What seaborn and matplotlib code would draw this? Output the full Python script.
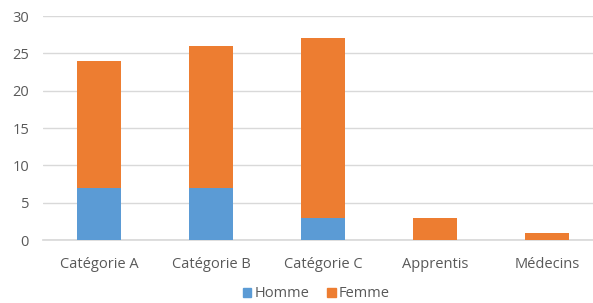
import numpy as np
import pandas as pd
import matplotlib
matplotlib.use("Agg")
import matplotlib.pyplot as plt
import seaborn as sns
from matplotlib.patches import Patch

categories = ["Catégorie A", "Catégorie B", "Catégorie C", "Apprentis", "Médecins"]
homme = [7, 7, 3, 0, 0]
femme = [17, 19, 24, 3, 1]

BLUE = "#5B9BD5"
ORANGE = "#ED7D31"
TEXT = "#595959"

sns.set_theme(style="white")
plt.rcParams["font.family"] = ["Open Sans", "DejaVu Sans"]

df = pd.DataFrame({"categorie": categories, "Homme": homme, "Femme": femme})
df["total"] = df["Homme"] + df["Femme"]

fig = plt.figure(figsize=(5.93, 3.03), dpi=100)
ax = fig.add_axes([43 / 593, 63 / 303, 550 / 593, 224 / 303])

# stacked look: totals in orange, Homme drawn over them in blue
sns.barplot(data=df, x="categorie", y="total", color=ORANGE, saturation=1,
            width=0.39, ax=ax, zorder=3, linewidth=0)
sns.barplot(data=df, x="categorie", y="Homme", color=BLUE, saturation=1,
            width=0.39, ax=ax, zorder=4, linewidth=0)

ax.set_ylim(0, 30)
ax.set_xlim(-0.5, 4.41)
ax.set_yticks(range(0, 31, 5))
ax.yaxis.grid(True, color="#D9D9D9", linewidth=1, zorder=0)
ax.set_axisbelow(True)
for side in ["left", "right", "top"]:
    ax.spines[side].set_visible(False)
ax.spines["bottom"].set_color("#D9D9D9")
ax.tick_params(axis="x", length=0, colors=TEXT, labelsize=10.5, pad=12)
ax.tick_params(axis="y", length=0, colors=TEXT, labelsize=10.5, pad=10)
ax.set_xlabel("")
ax.set_ylabel("")

handles = [Patch(color=BLUE, label="Homme"), Patch(color=ORANGE, label="Femme")]
fig.legend(handles=handles, loc="center", bbox_to_anchor=(0.533, 0.03), ncol=2,
           frameon=False, fontsize=10.5, labelcolor=TEXT, handlelength=0.6,
           handleheight=0.6, handletextpad=0.2, columnspacing=1.2)

fig.savefig("out.png", dpi=100)
